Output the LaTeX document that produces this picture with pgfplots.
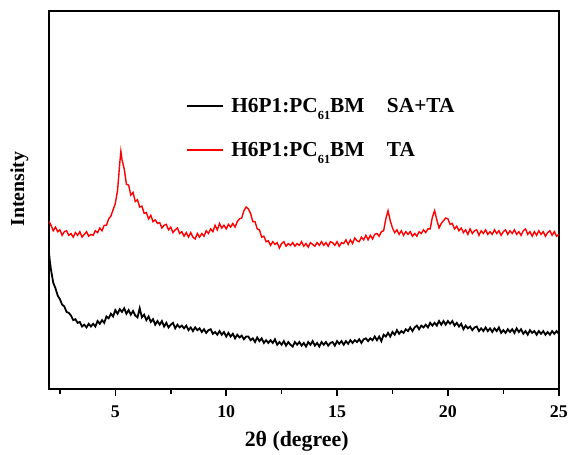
\documentclass[border=0pt]{standalone}
\usepackage{fontspec}
\setmainfont{Liberation Serif}
\usepackage{pgfplots}
\pgfplotsset{compat=1.18}

\newcommand{\pcbm}{H6P1:PC\raisebox{-0.32em}{\fontsize{12.5}{12.5}\selectfont 61}BM}

\begin{document}
\begin{tikzpicture}
  \begin{axis}[
    width=512bp, height=380bp, scale only axis,
    xmin=2, xmax=25, ymin=0, ymax=415,
    xtick={5,10,15,20,25}, minor xtick={2.5,7.5,12.5,17.5,22.5},
    ytick=\empty,
    xtick pos=left, tick align=outside,
    major tick length=7bp, minor tick length=4.5bp,
    every tick/.style={black, line width=1.6bp},
    axis line style={line width=2bp},
    /pgf/number format/assume math mode=true,
    xticklabel style={font=\fontsize{18}{18}\selectfont\bfseries, yshift=-6bp},
    xlabel={2θ (degree)},
    xlabel style={font=\fontsize{22}{22}\selectfont\bfseries, at={(axis description cs:0.486,0)}, anchor=north, yshift=-38bp},
    ylabel={Intensity},
    ylabel style={font=\fontsize{20}{20}\selectfont\bfseries, at={(axis description cs:0,0.529)}, rotate=0, anchor=south, yshift=17bp},
    legend style={at={(axis description cs:0.268,0.774)}, anchor=north west, draw=none, fill=none,
      font=\fontsize{21.5}{25}\selectfont\bfseries, row sep=24bp, inner sep=0pt},
    legend cell align=left,
    legend image code/.code={\draw[#1, line width=1.9bp] (0bp,0.4bp) -- (37bp,0.4bp); \path (42bp,0bp);},
  ]
    \addplot[black, line width=1.8bp] coordinates {
      (2.0,152) (2.05,140) (2.1,131) (2.2,117) (2.3,111) (2.4,103) (2.5,99) (2.6,93) (2.7,91) (2.8,85) (2.9,84)
      (3.0,81) (3.1,76) (3.2,77) (3.3,73) (3.4,74) (3.5,69) (3.6,71) (3.7,68) (3.8,72) (3.9,69)
      (4.0,72) (4.1,69) (4.2,75) (4.3,72) (4.4,76) (4.5,73) (4.6,80) (4.7,78) (4.8,83) (4.9,80)
      (5.0,87) (5.1,83) (5.2,88) (5.3,85) (5.4,89) (5.5,83) (5.6,87) (5.7,82) (5.8,86) (5.9,81)
      (6.0,79) (6.1,89) (6.2,79) (6.3,82) (6.4,76) (6.5,80) (6.6,74) (6.7,77) (6.8,71) (6.9,75)
      (7.0,71) (7.1,75) (7.2,69) (7.3,73) (7.4,68) (7.5,71) (7.6,73) (7.7,67) (7.8,71) (7.9,68)
      (8.0,70) (8.1,67) (8.2,70) (8.3,65) (8.4,68) (8.5,64) (8.6,68) (8.7,65) (8.8,67) (8.9,63)
      (9.0,66) (9.1,62) (9.2,65) (9.3,66) (9.4,61) (9.5,63) (9.6,60) (9.7,64) (9.8,60) (9.9,63)
      (10.0,58) (10.1,62) (10.2,58) (10.3,61) (10.4,56) (10.5,60) (10.6,57) (10.7,59) (10.8,55) (10.9,58)
      (11.0,58) (11.1,54) (11.2,56) (11.3,52) (11.4,57) (11.5,53) (11.6,56) (11.7,51) (11.8,54) (11.9,51)
      (12.0,54) (12.1,51) (12.2,55) (12.3,49) (12.4,52) (12.5,49) (12.6,53) (12.7,48) (12.8,52) (12.9,49)
      (13.0,47) (13.1,52) (13.2,49) (13.3,52) (13.4,48) (13.5,51) (13.6,47) (13.7,52) (13.8,49) (13.9,53)
      (14.0,48) (14.1,51) (14.2,47) (14.3,52) (14.4,49) (14.5,52) (14.6,48) (14.7,51) (14.8,52) (14.9,48)
      (15.0,53) (15.1,50) (15.2,53) (15.3,49) (15.4,53) (15.5,50) (15.6,54) (15.7,51) (15.8,54) (15.9,52)
      (16.0,55) (16.1,51) (16.2,55) (16.3,56) (16.4,53) (16.5,56) (16.6,54) (16.7,58) (16.8,54) (16.9,58)
      (17.0,53) (17.1,60) (17.2,58) (17.3,62) (17.4,58) (17.5,63) (17.6,60) (17.7,65) (17.8,61) (17.9,64)
      (18.0,62) (18.1,66) (18.2,64) (18.3,68) (18.4,64) (18.5,68) (18.6,70) (18.7,66) (18.8,70) (18.9,68)
      (19.0,71) (19.1,68) (19.2,73) (19.3,70) (19.4,73) (19.5,70) (19.6,75) (19.7,71) (19.8,75) (19.9,71)
      (20.0,75) (20.1,72) (20.2,75) (20.3,70) (20.4,73) (20.5,69) (20.6,72) (20.7,66) (20.8,70) (20.9,67)
      (21.0,69) (21.1,65) (21.2,68) (21.3,69) (21.4,64) (21.5,67) (21.6,64) (21.7,68) (21.8,64) (21.9,67)
      (22.0,63) (22.1,67) (22.2,64) (22.3,68) (22.4,62) (22.5,65) (22.6,62) (22.7,66) (22.8,63) (22.9,66)
      (23.0,62) (23.1,67) (23.2,63) (23.3,66) (23.4,61) (23.5,64) (23.6,60) (23.7,65) (23.8,62) (23.9,64)
      (24.0,60) (24.1,64) (24.2,61) (24.3,64) (24.4,60) (24.5,63) (24.6,60) (24.7,64) (24.8,61) (24.9,64)
      (25.0,61)
    };
    \addlegendentry{\pcbm\hspace{1.05em}SA+TA}
    \addplot[red, line width=1.4bp] coordinates {
      (2.0,185) (2.1,180) (2.2,174) (2.3,178) (2.4,173) (2.5,175) (2.6,169) (2.7,173) (2.8,174) (2.9,169)
      (3.0,171) (3.1,167) (3.2,172) (3.3,169) (3.4,173) (3.5,167) (3.6,170) (3.7,173) (3.8,168) (3.9,170)
      (4.0,169) (4.1,174) (4.2,172) (4.3,177) (4.4,174) (4.5,180) (4.6,180) (4.7,187) (4.8,190) (4.9,197)
      (5.0,204) (5.1,218) (5.2,248) (5.25,261) (5.3,252) (5.4,242) (5.5,225) (5.6,224) (5.7,213) (5.8,216) (5.9,206)
      (6.0,208) (6.1,200) (6.2,201) (6.3,193) (6.4,194) (6.5,187) (6.6,191) (6.7,184) (6.8,186) (6.9,182)
      (7.0,183) (7.1,177) (7.2,180) (7.3,181) (7.4,175) (7.5,178) (7.6,172) (7.7,175) (7.8,177) (7.9,171)
      (8.0,173) (8.1,168) (8.2,172) (8.3,167) (8.4,172) (8.5,167) (8.6,165) (8.7,171) (8.8,167) (8.9,171)
      (9.0,168) (9.1,174) (9.2,171) (9.3,176) (9.4,173) (9.5,180) (9.6,175) (9.7,182) (9.8,177) (9.9,180)
      (10.0,176) (10.1,181) (10.2,178) (10.3,182) (10.4,178) (10.5,184) (10.6,187) (10.7,188) (10.8,196) (10.9,200)
      (11.0,198) (11.1,193) (11.2,184) (11.3,184) (11.4,176) (11.5,175) (11.6,167) (11.7,168) (11.8,162) (11.9,163)
      (12.0,158) (12.1,162) (12.2,159) (12.3,161) (12.4,155) (12.5,160) (12.6,162) (12.7,157) (12.8,160) (12.9,158)
      (13.0,161) (13.1,157) (13.2,160) (13.3,158) (13.4,162) (13.5,157) (13.6,160) (13.7,156) (13.8,161) (13.9,159)
      (14.0,157) (14.1,161) (14.2,158) (14.3,162) (14.4,158) (14.5,161) (14.6,157) (14.7,162) (14.8,161) (14.9,158)
      (15.0,162) (15.1,157) (15.2,161) (15.3,160) (15.4,164) (15.5,159) (15.6,164) (15.7,160) (15.8,166) (15.9,163)
      (16.0,162) (16.1,167) (16.2,164) (16.3,169) (16.4,164) (16.5,169) (16.6,165) (16.7,170) (16.8,171) (16.9,168)
      (17.0,173) (17.1,174) (17.2,187) (17.3,196) (17.4,185) (17.5,177) (17.6,172) (17.7,175) (17.8,170) (17.9,174)
      (18.0,169) (18.1,173) (18.2,170) (18.3,173) (18.4,168) (18.5,171) (18.6,168) (18.7,173) (18.8,171) (18.9,175)
      (19.0,172) (19.1,176) (19.2,176) (19.3,189) (19.4,196) (19.5,186) (19.6,177) (19.7,182) (19.8,185) (19.9,188)
      (20.0,187) (20.1,181) (20.2,182) (20.3,176) (20.4,179) (20.5,174) (20.6,177) (20.7,172) (20.8,175) (20.9,170)
      (21.0,176) (21.1,171) (21.2,174) (21.3,175) (21.4,169) (21.5,174) (21.6,171) (21.7,175) (21.8,170) (21.9,173)
      (22.0,170) (22.1,175) (22.2,171) (22.3,174) (22.4,169) (22.5,173) (22.6,175) (22.7,170) (22.8,174) (22.9,171)
      (23.0,175) (23.1,170) (23.2,173) (23.3,169) (23.4,174) (23.5,176) (23.6,170) (23.7,173) (23.8,168) (23.9,173)
      (24.0,169) (24.1,174) (24.2,170) (24.3,173) (24.4,168) (24.5,172) (24.6,174) (24.7,169) (24.8,173) (24.9,168)
      (25.0,170)
    };
    \addlegendentry{\pcbm\hspace{1.05em}TA}
  \end{axis}
  \path ([xshift=-49bp,yshift=11bp]current axis.north west) rectangle ([xshift=10bp,yshift=-64bp]current axis.south east);
\end{tikzpicture}
\end{document}
